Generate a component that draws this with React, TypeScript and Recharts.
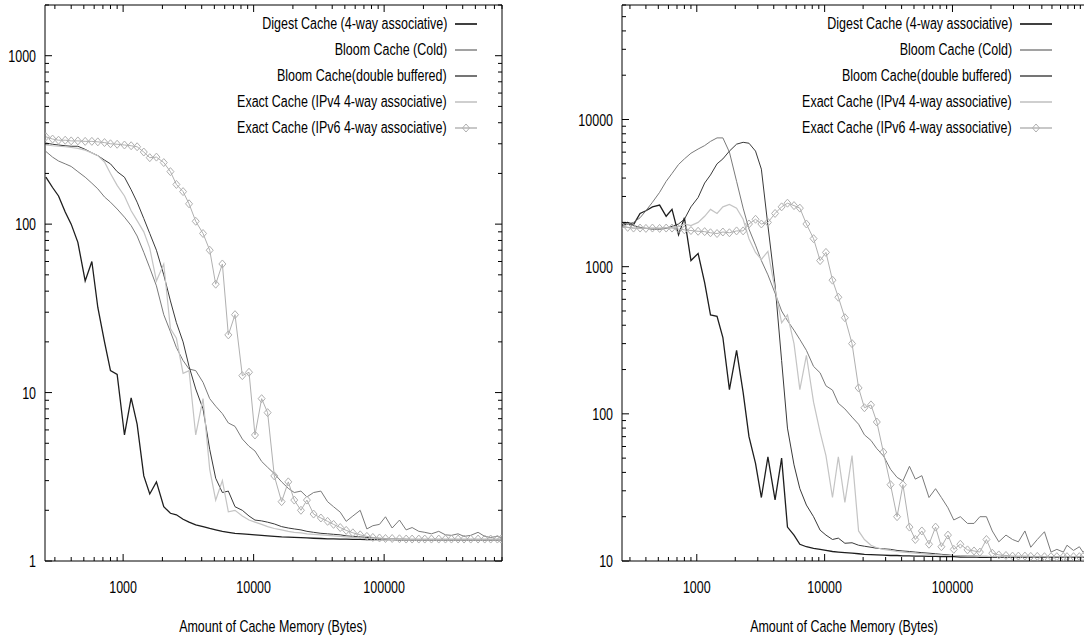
import React from "react";
import { LineChart, Line, XAxis, YAxis, Legend } from "recharts";

// cache memory sizes (bytes) shared by every series
const memoryBytes = [
  256, 288, 320, 360, 400, 450, 512, 576, 640, 720,
  800, 900, 1024, 1152, 1280, 1440, 1600, 1800, 2048, 2304,
  2560, 2880, 3200, 3600, 4096, 4608, 5120, 5760, 6400, 7200,
  8192, 9216, 10240, 11520, 12800, 14400, 16384, 18432, 20480, 23040,
  25600, 28800, 32768, 36864, 40960, 46080, 51200, 57600, 65536, 73728,
  81920, 92160, 102400, 115200, 131072, 147456, 163840, 184320, 204800, 230400,
  262144, 294912, 327680, 368640, 409600, 460800, 524288, 589824, 655360, 737280,
  786432, 884736, 983040, 1048576, 1179648,
];

// left panel
const leftDigest = [
  190, 165, 147, 118, 100, 78, 46, 60, 32, 20,
  13.5, 12.8, 5.6, 9.3, 6.5, 3.2, 2.5, 2.95, 2.1, 1.92,
  1.88, 1.77, 1.7, 1.64, 1.6, 1.56, 1.53, 1.5, 1.48, 1.46,
  1.45, 1.44, 1.43, 1.42, 1.41, 1.4, 1.39, 1.385, 1.38, 1.375,
  1.37, 1.365, 1.36, 1.355, 1.355, 1.35, 1.35, 1.345, 1.345, 1.34,
  1.34, 1.34, 1.34, 1.34, 1.335, 1.335, 1.335, 1.335, 1.335, 1.335,
  1.335, 1.335, 1.335, 1.335, 1.335, 1.335, 1.335, 1.335, 1.335, 1.335,
  1.335,
];
const leftBloomCold = [
  270, 250, 237, 228, 220, 205, 190, 175, 162, 145,
  135, 123, 110, 98, 85, 68, 55, 43, 29, 23,
  18.5, 15.5, 13.8, 13.5, 11.5, 9.2, 8.3, 7.5, 6.6, 6.3,
  5.3, 4.8, 4.5, 3.9, 3.6, 3.3, 2.95, 2.7, 2.55, 2.6,
  2.4, 2.55, 2.6, 2.25, 2.1, 1.95, 1.72, 1.85, 2.0, 1.55,
  1.62, 1.65, 1.83, 1.57, 1.75, 1.53, 1.58, 1.5, 1.48, 1.45,
  1.5, 1.43, 1.42, 1.45, 1.4, 1.42, 1.48, 1.4, 1.38, 1.4,
  1.38,
];
const leftBloomDouble = [
  303, 298, 295, 292, 290, 290, 278, 265, 255, 240,
  228, 205, 190, 160, 135, 108, 88, 70, 50, 35,
  26, 20, 14.3, 10.5, 8, 4.6, 3.1, 2.55, 2.6, 2.1,
  2.0, 1.85, 1.75, 1.73, 1.7, 1.66, 1.6, 1.57, 1.55, 1.53,
  1.5, 1.48, 1.46, 1.45, 1.44, 1.43, 1.41, 1.4, 1.39, 1.38,
  1.37, 1.36, 1.355, 1.35, 1.345, 1.345, 1.34, 1.34, 1.34, 1.34,
  1.34, 1.34, 1.34, 1.34, 1.34, 1.34, 1.34, 1.34, 1.34, 1.34,
  1.34,
];
const leftExactV4 = [
  295, 292, 290, 288, 285, 282, 275, 265, 255, 234,
  200, 170, 147, 120, 105, 90, 72, 46, 58, 24,
  21, 13, 13.5, 5.6, 9.2, 3.5, 2.3, 3.0, 1.96, 2.0,
  1.85, 1.75, 1.7, 1.65, 1.6, 1.56, 1.53, 1.5, 1.48, 1.47,
  1.45, 1.44, 1.43, 1.42, 1.41, 1.4, 1.39, 1.38, 1.37, 1.36,
  1.36, 1.355, 1.35, 1.345, 1.345, 1.34, 1.34, 1.34, 1.34, 1.34,
  1.34, 1.34, 1.34, 1.34, 1.34, 1.34, 1.34, 1.34, 1.34, 1.34,
  1.34,
];
const leftExactV6 = [
  330, 320, 315, 315, 312, 312, 310, 310, 308, 305,
  300, 298, 295, 292, 288, 268, 248, 250, 232, 205,
  172, 156, 132, 104, 88, 70, 44, 58, 22, 29,
  12.6, 13.2, 5.6, 9.2, 7.6, 3.2, 2.25, 2.95, 2.3, 2.0,
  2.3, 1.9, 1.8, 1.72, 1.65, 1.58, 1.52, 1.47, 1.43, 1.4,
  1.38, 1.37, 1.36, 1.36, 1.355, 1.35, 1.35, 1.35, 1.35, 1.35,
  1.35, 1.35, 1.35, 1.35, 1.35, 1.35, 1.35, 1.35, 1.35, 1.35,
  1.35,
];

// right panel
const rightDigest = [
  1950, 2000, 1930, 2300, 2400, 2550, 2620, 2200, 2450, 1650,
  2150, 1100, 1230, 780, 470, 460, 330, 146, 270, 140,
  70, 46, 27, 51, 26, 50, 17, 15, 13, 12.5,
  12.2, 12, 11.8, 11.6, 11.5, 11.4, 11.3, 11.2, 11.1, 11.05,
  11, 10.95, 10.9, 10.9, 10.85, 10.85, 10.8, 10.8, 10.75, 10.75,
  10.7, 10.7, 10.7, 10.65, 10.65, 10.65, 10.6, 10.6, 10.6, 10.6,
  10.6, 10.6, 10.6, 10.6, 10.6, 10.6, 10.6, 10.6, 10.6, 10.6,
  10.6, 10.6, 10.6, 10.6, 10.6,
];
const rightBloomCold = [
  1950, 1950, 2000, 2150, 2400, 2740, 3200, 3800, 4300, 4950,
  5400, 5900, 6300, 6650, 7100, 7500, 7500, 6000, 3800, 2500,
  1800, 1400, 1100, 880, 660, 500, 430, 370, 320, 270,
  210, 190, 155, 145, 118, 108, 95, 85, 72, 66,
  58, 52, 42, 37, 35, 44, 36, 38, 27, 31,
  27, 23, 19, 20, 18, 18, 20, 20, 16, 13.5,
  15, 14, 13.5, 16, 12.4, 14, 15.8, 11.5, 12, 11.5,
  12.8, 11.8, 12.5, 11.5, 12,
];
const rightBloomDouble = [
  1900, 1950, 1900, 1850, 1820, 1800, 1800, 1820, 1880, 1950,
  2100, 2550, 2950, 3700, 4200, 5000, 5400, 6100, 6800, 7000,
  6900, 6100, 4600, 1900, 750, 230, 80, 45, 31, 24,
  20, 16.2, 15, 14, 14.3, 13.2, 13.3, 12.8, 12.6, 12.4,
  12.2, 12.1, 12, 11.8, 11.7, 11.6, 11.5, 11.4, 11.3, 11.2,
  11.1, 11, 10.9, 10.85, 10.8, 10.8, 10.75, 10.75, 10.7, 10.7,
  10.7, 10.65, 10.65, 10.65, 10.6, 10.6, 10.6, 10.6, 10.6, 10.6,
  10.6, 10.6, 10.6, 10.6, 10.6,
];
const rightExactV4 = [
  1850, 1850, 1830, 1820, 1830, 1820, 1830, 1840, 1850, 1870,
  1950, 1900, 2000, 2200, 2450, 2300, 2550, 2650, 2500, 2100,
  1550, 1250, 1120, 1270, 700, 415, 470, 300, 146, 250,
  120, 75, 52, 27, 51, 25, 52, 16, 14, 12.8,
  12.3, 12, 11.8, 11.6, 11.5, 11.4, 11.3, 11.2, 11.1, 11,
  10.95, 10.9, 10.9, 10.85, 10.8, 10.8, 10.75, 10.75, 10.7, 10.7,
  10.7, 10.7, 10.7, 10.7, 10.7, 10.7, 10.7, 10.7, 10.7, 10.7,
  10.7, 10.7, 10.7, 10.7, 10.7,
];
const rightExactV6 = [
  1900, 1850, 1830, 1830, 1820, 1830, 1820, 1830, 1830, 1800,
  1780, 1760, 1740, 1730, 1700, 1680, 1720, 1700, 1750, 1750,
  1950, 2100, 1950, 2000, 2300, 2550, 2700, 2600, 2500, 1950,
  1550, 1100, 1250, 810, 620, 450, 300, 150, 110, 115,
  88, 55, 33, 20, 33, 17, 14, 16, 13, 17,
  12.5, 15, 12, 13, 11.9, 11.7, 11.5, 14, 11.3, 11,
  10.9, 10.8, 10.8, 10.8, 10.75, 10.75, 10.7, 10.7, 10.7, 10.7,
  10.7, 10.7, 10.7, 10.7, 10.7,
];

const leftXTicks = [
  300, 400, 500, 600, 700, 800, 900, 1000, 2000, 3000, 4000, 5000, 6000, 7000, 8000, 9000,
  10000, 20000, 30000, 40000, 50000, 60000, 70000, 80000, 90000, 100000,
  200000, 300000, 400000, 500000, 600000, 700000, 800000,
];
const rightXTicks = [...leftXTicks, 900000, 1000000];
const xLabels = [1000, 10000, 100000];
const leftYTicks = [
  1, 2, 3, 4, 5, 6, 7, 8, 9, 10, 20, 30, 40, 50, 60, 70, 80, 90,
  100, 200, 300, 400, 500, 600, 700, 800, 900, 1000, 2000,
];
const leftYLabels = [1, 10, 100, 1000];
const rightYTicks = [
  10, 20, 30, 40, 50, 60, 70, 80, 90, 100, 200, 300, 400, 500, 600, 700, 800, 900,
  1000, 2000, 3000, 4000, 5000, 6000, 7000, 8000, 9000, 10000, 20000, 30000, 40000, 50000, 60000,
];
const rightYLabels = [10, 100, 1000, 10000];

const series = [
  { key: "digest", name: "Digest Cache (4-way associative)", color: "#1e1e1e", width: 1.3 },
  { key: "cold", name: "Bloom Cache (Cold)", color: "#7a7a7a", width: 1 },
  { key: "double", name: "Bloom Cache(double buffered)", color: "#3a3a3a", width: 1 },
  { key: "v4", name: "Exact Cache (IPv4 4-way associative)", color: "#c4c4c4", width: 1.2 },
  { key: "v6", name: "Exact Cache (IPv6 4-way associative)", color: "#b0b0b0", width: 1, diamond: true },
];

const FONT = "'Liberation Sans', Arial, sans-serif";
const FONT_SIZE = 16;
const NARROW = 0.78;

const buildRows = (cols: number[][]) =>
  memoryBytes.map((bytes, i) => {
    const row: any = { bytes };
    cols.forEach((col, k) => {
      if (i < col.length) row[series[k].key] = col[i];
    });
    return row;
  });

const leftRows = buildRows([leftDigest, leftBloomCold, leftBloomDouble, leftExactV4, leftExactV6]);
const rightRows = buildRows([rightDigest, rightBloomCold, rightBloomDouble, rightExactV4, rightExactV6]);

const Diamond = ({ cx, cy, color }: any) =>
  cx == null || cy == null ? null : (
    <path
      d={`M${cx},${cy - 4}L${cx + 3.5},${cy}L${cx},${cy + 4}L${cx - 3.5},${cy}Z`}
      fill="none"
      stroke={color}
      strokeWidth={1}
    />
  );

// condensed text (gnuplot's narrow Helvetica look)
const NarrowText = ({ x, y, anchor, children }: any) => (
  <text
    transform={`translate(${x},${y}) scale(${NARROW},1)`}
    textAnchor={anchor}
    fontFamily={FONT}
    fontSize={FONT_SIZE}
    fill="#000"
  >
    {children}
  </text>
);

const LegendBox = ({ sampleWidth }: { sampleWidth: number }) => (
  <div style={{ fontFamily: FONT, fontSize: FONT_SIZE, color: "#000" }}>
    {series.map((s) => (
      <div
        key={s.key}
        style={{ display: "flex", alignItems: "center", justifyContent: "flex-end", height: 26 }}
      >
        <span
          style={{
            display: "inline-block",
            whiteSpace: "nowrap",
            transform: `scaleX(${NARROW})`,
            transformOrigin: "right center",
            marginRight: 8,
          }}
        >
          {s.name}
        </span>
        <svg width={sampleWidth} height={10}>
          <line x1={0} x2={sampleWidth} y1={5} y2={5} stroke={s.color} strokeWidth={s.width + 0.4} />
          {s.diamond && <Diamond cx={sampleWidth / 2} cy={5} color={s.color} />}
        </svg>
      </div>
    ))}
  </div>
);

type Box = { left: number; right: number; top: number; bottom: number };

const Panel = ({
  rows, box, width, offsetX, xDomain, yDomain, xTicks, yTicks, yLabels, legendRight, sampleWidth, titleX,
}: any) => {
  const b: Box = box;
  const bottomTick = (p: any) => {
    const major = xLabels.includes(p.payload.value);
    return (
      <g key={`b${p.index}`}>
        <line x1={p.x} x2={p.x} y1={b.bottom} y2={b.bottom - (major ? 7 : 4)} stroke="#000" />
        {major && (
          <NarrowText x={p.x} y={b.bottom + 32} anchor="middle">
            {p.payload.value}
          </NarrowText>
        )}
      </g>
    );
  };
  const topTick = (p: any) => {
    const major = xLabels.includes(p.payload.value);
    return (
      <line key={`t${p.index}`} x1={p.x} x2={p.x} y1={b.top} y2={b.top + (major ? 7 : 4)} stroke="#000" />
    );
  };
  const leftTick = (p: any) => {
    const major = yLabels.includes(p.payload.value);
    return (
      <g key={`l${p.index}`}>
        <line x1={b.left} x2={b.left + (major ? 7 : 4)} y1={p.y} y2={p.y} stroke="#000" />
        {major && (
          <NarrowText x={b.left - 9} y={p.y + 6} anchor="end">
            {p.payload.value}
          </NarrowText>
        )}
      </g>
    );
  };
  const rightTick = (p: any) => {
    const major = yLabels.includes(p.payload.value);
    return (
      <line key={`r${p.index}`} x1={b.right} x2={b.right - (major ? 7 : 4)} y1={p.y} y2={p.y} stroke="#000" />
    );
  };
  const axisCommon = { axisLine: { stroke: "#000" }, tickLine: false, tickSize: 0, interval: 0 as const };
  return (
    <div style={{ position: "absolute", left: offsetX, top: 0 }}>
      <LineChart width={width} height={638} data={rows} margin={{ top: 0, right: 0, bottom: 0, left: 0 }}>
        <XAxis
          xAxisId="bottom"
          dataKey="bytes"
          type="number"
          scale="log"
          domain={xDomain}
          allowDataOverflow
          ticks={xTicks}
          tick={bottomTick}
          height={638 - b.bottom}
          label={{
            content: () => (
              <NarrowText x={titleX} y={632} anchor="middle">
                Amount of Cache Memory (Bytes)
              </NarrowText>
            ),
          }}
          {...axisCommon}
        />
        <XAxis
          xAxisId="top"
          orientation="top"
          dataKey="bytes"
          type="number"
          scale="log"
          domain={xDomain}
          allowDataOverflow
          ticks={xTicks}
          tick={topTick}
          height={b.top}
          {...axisCommon}
        />
        <YAxis
          yAxisId="left"
          type="number"
          scale="log"
          domain={yDomain}
          allowDataOverflow
          ticks={yTicks}
          tick={leftTick}
          width={b.left}
          {...axisCommon}
        />
        <YAxis
          yAxisId="right"
          orientation="right"
          type="number"
          scale="log"
          domain={yDomain}
          allowDataOverflow
          ticks={yTicks}
          tick={rightTick}
          width={width - b.right}
          {...axisCommon}
        />
        <Legend
          layout="vertical"
          align="center"
          verticalAlign="middle"
          content={() => <LegendBox sampleWidth={sampleWidth} />}
          wrapperStyle={{ top: 11, right: legendRight, left: "auto", bottom: "auto", width: "auto", height: "auto" }}
        />
        {series.map((s) => (
          <Line
            key={s.key}
            xAxisId="bottom"
            yAxisId="left"
            dataKey={s.key}
            name={s.name}
            type="linear"
            stroke={s.color}
            strokeWidth={s.width}
            dot={s.diamond ? (p: any) => <Diamond key={`d${p.index}`} cx={p.cx} cy={p.cy} color={s.color} /> : false}
            activeDot={false}
            isAnimationActive={false}
          />
        ))}
      </LineChart>
    </div>
  );
};

export default function App() {
  return (
    <div
      style={{
        position: "absolute",
        left: 0,
        top: 0,
        width: 1084,
        height: 638,
        overflow: "hidden",
        background: "#fff",
      }}
    >
      <Panel
        rows={leftRows}
        box={{ left: 45, right: 502, top: 5, bottom: 561 }}
        width={540}
        offsetX={0}
        xDomain={[252, 800000]}
        yDomain={[1, 2000]}
        xTicks={leftXTicks}
        yTicks={leftYTicks}
        yLabels={leftYLabels}
        legendRight={540 - 477}
        sampleWidth={22}
        titleX={273}
      />
      <Panel
        rows={rightRows}
        box={{ left: 82, right: 559, top: 5, bottom: 561 }}
        width={579}
        offsetX={540}
        xDomain={[260, 1400000]}
        yDomain={[10, 60000]}
        xTicks={rightXTicks}
        yTicks={rightYTicks}
        yLabels={rightYLabels}
        legendRight={579 - (1052 - 540)}
        sampleWidth={32}
        titleX={844 - 540}
      />
    </div>
  );
}
